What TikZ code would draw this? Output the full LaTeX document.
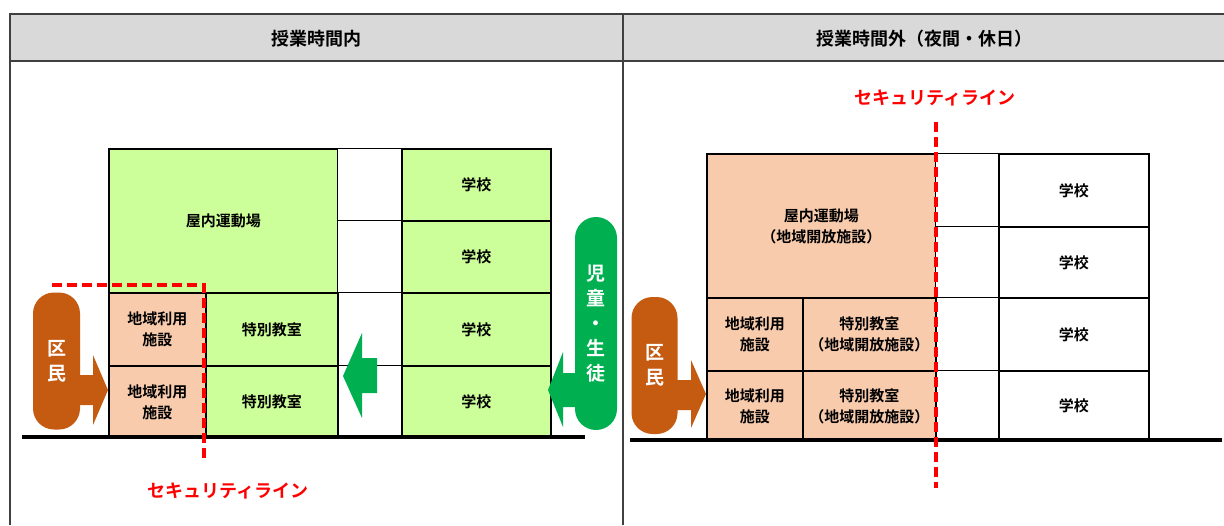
\documentclass[tikz,border=0pt]{standalone}
\usepackage{fontspec}
\setmainfont{Noto Sans CJK JP}[BoldFont={Noto Sans CJK JP Bold}]
\definecolor{lgreen}{HTML}{CCFF99}
\definecolor{salmon}{HTML}{F8CBAD}
\definecolor{kbrown}{HTML}{C55A11}
\definecolor{sgreen}{HTML}{00B050}
\definecolor{hgray}{HTML}{D9D9D9}
\definecolor{sred}{HTML}{FF0000}
\definecolor{frameg}{HTML}{404040}
\begin{document}
\begin{tikzpicture}[x=1pt,y=-1pt,
  bld/.style={draw=black, line width=1.8pt, inner sep=0pt, anchor=north west, align=center,
    font=\bfseries\fontsize{15}{21}\selectfont},
  cell/.style={draw=black, line width=1.1pt, fill=white, inner sep=0pt, anchor=north west},
  frm/.style={draw=frameg, line width=1.6pt},
  hdr/.style={font=\bfseries\fontsize{18}{20}\selectfont, inner sep=0pt},
  sec/.style={draw=sred, line width=3.4pt, dash pattern=on 10pt off 5pt},
  seclab/.style={text=sred, font=\bfseries\fontsize{18}{20}\selectfont, inner sep=0pt},
  ground/.style={draw=black, line width=3.8pt},
  pill/.style={rounded corners=21pt, inner sep=0pt, align=center, text=white,
    font=\bfseries\fontsize{19}{25}\selectfont}
]
\useasboundingbox (0,0) rectangle (1224,525);
% header and frame
\fill[hgray] (10,14) rectangle (1224,61);
\draw[frm] (1224,14) -- (10,14) -- (10,525);
\draw[frm] (10,61) -- (1224,61);
\draw[frm] (623,14) -- (623,525);
\node[hdr] (hL) at (316,39) {授業時間内};
\node[hdr] (hR) at (924,39) {授業時間外（夜間・休日）};

% ---------- left panel ----------
\node[bld, fill=lgreen, minimum width=229pt, minimum height=144pt] (gymL) at (108,148) {屋内運動場};
\node[cell, minimum width=64pt, minimum height=72pt] (cL1) at (337,148) {};
\node[cell, minimum width=64pt, minimum height=72pt] (cL2) at (337,220) {};
\node[cell, minimum width=64pt, minimum height=73pt] (cL3) at (337,292) {};
\node[cell, minimum width=64pt, minimum height=72pt] (cL4) at (337,365) {};
\node[bld, fill=lgreen, minimum width=149pt, minimum height=72pt] (sL1) at (401,148) {学校};
\node[bld, fill=lgreen, minimum width=149pt, minimum height=72pt] (sL2) at (401,220) {学校};
\node[bld, fill=lgreen, minimum width=149pt, minimum height=73pt] (sL3) at (401,292) {学校};
\node[bld, fill=lgreen, minimum width=149pt, minimum height=72pt] (sL4) at (401,365) {学校};
\node[bld, fill=salmon, minimum width=97pt, minimum height=73pt] (aL1) at (108,292) {地域利用\\施設};
\node[bld, fill=salmon, minimum width=97pt, minimum height=72pt] (aL2) at (108,365) {地域利用\\施設};
\node[bld, fill=lgreen, minimum width=132pt, minimum height=73pt] (tL1) at (205,292) {\raisebox{-11pt}{特別教室}};
\node[bld, fill=lgreen, minimum width=132pt, minimum height=72pt] (tL2) at (205,365) {\raisebox{-9pt}{特別教室}};
\draw[ground] (22,437) -- (585,437);
\coordinate (secLa) at (52,285);
\coordinate (secLb) at (204,285);
\coordinate (secLc) at (204,459);
\draw[sec] (secLa) -- (secLb) -- (secLc);
\node[seclab] (secLlab) at (228,491) {セキュリティライン};
% kumin left
\fill[kbrown] (78,375) -- (93,375) -- (93,355) -- (108,390) -- (93,425) -- (93,405) -- (78,405) -- cycle;
\node[pill, fill=kbrown, minimum width=47pt, minimum height=137pt] (kL) at (56.5,361) {区\\民};
% middle green arrow
\fill[sgreen] (377,358) -- (362,358) -- (362,333) -- (343,376) -- (362,418) -- (362,393) -- (377,393) -- cycle;
% students
\fill[sgreen] (578,373) -- (563,373) -- (563,352) -- (548,390) -- (563,427) -- (563,407) -- (578,407) -- cycle;
\node[pill, fill=sgreen, minimum width=42pt, minimum height=213pt] (stu) at (596,323.5) {児\\童\\・\\生\\徒};

% ---------- right panel ----------
\node[bld, fill=salmon, minimum width=229pt, minimum height=144pt] (gymR) at (706,153) {屋内運動場\\（地域開放施設）};
\node[cell, minimum width=63pt, minimum height=73pt] (cR1) at (935,153) {};
\node[cell, minimum width=63pt, minimum height=71pt] (cR2) at (935,226) {};
\node[cell, minimum width=63pt, minimum height=73pt] (cR3) at (935,297) {};
\node[cell, minimum width=63pt, minimum height=70pt] (cR4) at (935,370) {};
\node[bld, fill=white, minimum width=150pt, minimum height=73pt] (sR1) at (998,153) {学校};
\node[bld, fill=white, minimum width=150pt, minimum height=71pt] (sR2) at (998,226) {学校};
\node[bld, fill=white, minimum width=150pt, minimum height=73pt] (sR3) at (998,297) {学校};
\node[bld, fill=white, minimum width=150pt, minimum height=70pt] (sR4) at (998,370) {学校};
\node[bld, fill=salmon, minimum width=96pt, minimum height=73pt] (aR1) at (706,297) {地域利用\\施設};
\node[bld, fill=salmon, minimum width=96pt, minimum height=70pt] (aR2) at (706,370) {地域利用\\施設};
\node[bld, fill=salmon, minimum width=133pt, minimum height=73pt] (tR1) at (802,297) {特別教室\\（地域開放施設）};
\node[bld, fill=salmon, minimum width=133pt, minimum height=70pt] (tR2) at (802,370) {特別教室\\（地域開放施設）};
\draw[ground] (630,440) -- (1222,440);
\coordinate (secRa) at (936,122);
\coordinate (secRb) at (936,488);
\draw[sec] (secRa) -- (secRb);
\node[seclab] (secRlab) at (935,98) {セキュリティライン};
% kumin right
\fill[kbrown] (675,380) -- (691,380) -- (691,360) -- (706,394) -- (691,428) -- (691,410) -- (675,410) -- cycle;
\node[pill, fill=kbrown, minimum width=46pt, minimum height=137pt] (kR) at (654.5,365.5) {区\\民};
\end{tikzpicture}
\end{document}
